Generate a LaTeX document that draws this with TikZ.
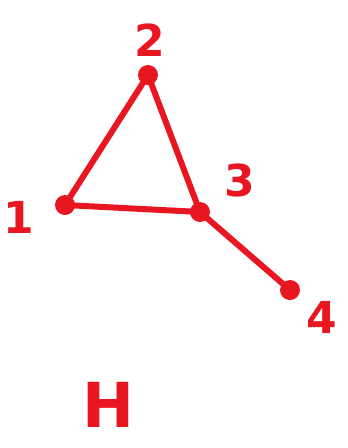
\documentclass[tikz,border=0pt]{standalone}
\usepackage{fontspec}
\setmainfont{DejaVu Sans}
\definecolor{pen}{RGB}{232,22,32}
\begin{document}
\begin{tikzpicture}[x=1pt,y=-1pt,
  vtx/.style={circle,fill=pen,inner sep=0pt,minimum size=20pt},
  lbl/.style={text=pen,font=\bfseries\fontsize{44}{44}\selectfont,inner sep=1pt},
  edge/.style={draw=pen,line width=6pt,line cap=round}]
\useasboundingbox (0,0) rectangle (348,448);
\node[vtx] (v1) at (65,205) {};
\node[vtx] (v2) at (148,75) {};
\node[vtx] (v3) at (200,212) {};
\node[vtx] (v4) at (290,290) {};
\draw[edge] (v1.center) -- (v2.center) -- (v3.center) -- (v1.center);
\draw[edge] (v3.center) -- (v4.center);
\node[lbl] (l1) at (19,217) {1};
\node[lbl] (l2) at (150,40) {2};
\node[lbl] (l3) at (240,180) {3};
\node[lbl] (l4) at (322,317) {4};
\node[lbl,font=\bfseries\fontsize{62}{62}\selectfont] (h) at (108,405) {H};
\end{tikzpicture}
\end{document}
